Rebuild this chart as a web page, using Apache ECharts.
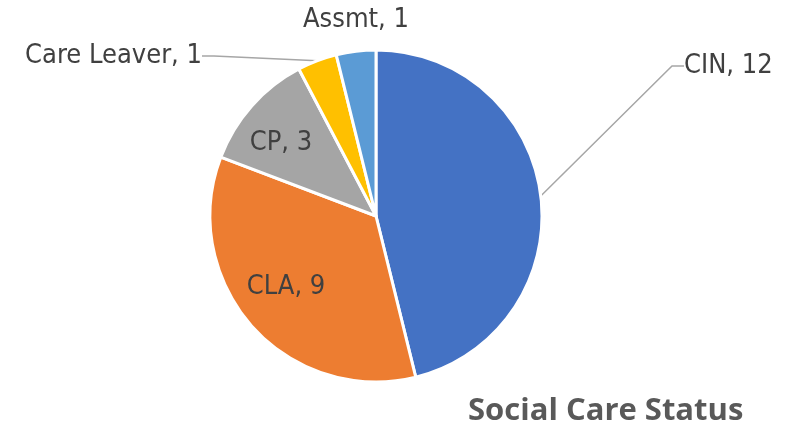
<!DOCTYPE html>
<html>
<head>
<meta charset="utf-8">
<script src="https://cdn.jsdelivr.net/npm/echarts@6/dist/echarts.min.js"></script>
<style>
  html, body { margin: 0; padding: 0; background: #fff; }
  #chart { width: 789px; height: 426px; }
</style>
</head>
<body>
<div id="chart"></div>
<script>
// slice names and counts
const categories = ['CIN', 'CLA', 'CP', 'Care Leaver', 'Assmt']
const counts = [12, 9, 3, 1, 1]
const colors = ['#4472C4', '#ED7D31', '#A5A5A5', '#FFC000', '#5B9BD5']

// where Excel put each label (x, middle y, alignment)
const labelSpots = [
  { x: 684, y: 66, align: 'left' },
  { x: 286, y: 287, align: 'center' },
  { x: 281, y: 143, align: 'center' },
  { x: 202, y: 56, align: 'right' },
  { x: 356, y: 20, align: 'center' }
]
const withLine = [true, false, false, true, false]

let myChart = echarts.init(document.getElementById('chart'))
myChart.setOption({
  animation: false,
  title: {
    text: 'Social Care Status',
    left: 463,
    top: 391,
    textStyle: {
      fontFamily: 'Open Sans',
      fontWeight: 'bold',
      fontSize: 31,
      color: '#595959'
    }
  },
  series: [{
    type: 'pie',
    center: [376, 216],
    radius: 166,
    startAngle: 90,
    clockwise: true,
    itemStyle: {
      borderColor: '#fff',
      borderWidth: 3
    },
    label: {
      show: true,
      formatter: '{b}, {c}',
      fontFamily: "'Liberation Sans Narrow', 'DejaVu Sans Condensed', sans-serif",
      fontSize: 27,
      color: '#404040'
    },
    labelLine: {
      show: true,
      length2: 12,
      lineStyle: { color: '#A6A6A6', width: 1.5 }
    },
    labelLayout: function (p) {
      let s = labelSpots[p.dataIndex]
      return { x: s.x, y: s.y, align: s.align, verticalAlign: 'middle' }
    },
    data: categories.map((name, i) => ({
      name: name,
      value: counts[i],
      itemStyle: { color: colors[i] },
      labelLine: { show: withLine[i] }
    }))
  }]
})
</script>
</body>
</html>
